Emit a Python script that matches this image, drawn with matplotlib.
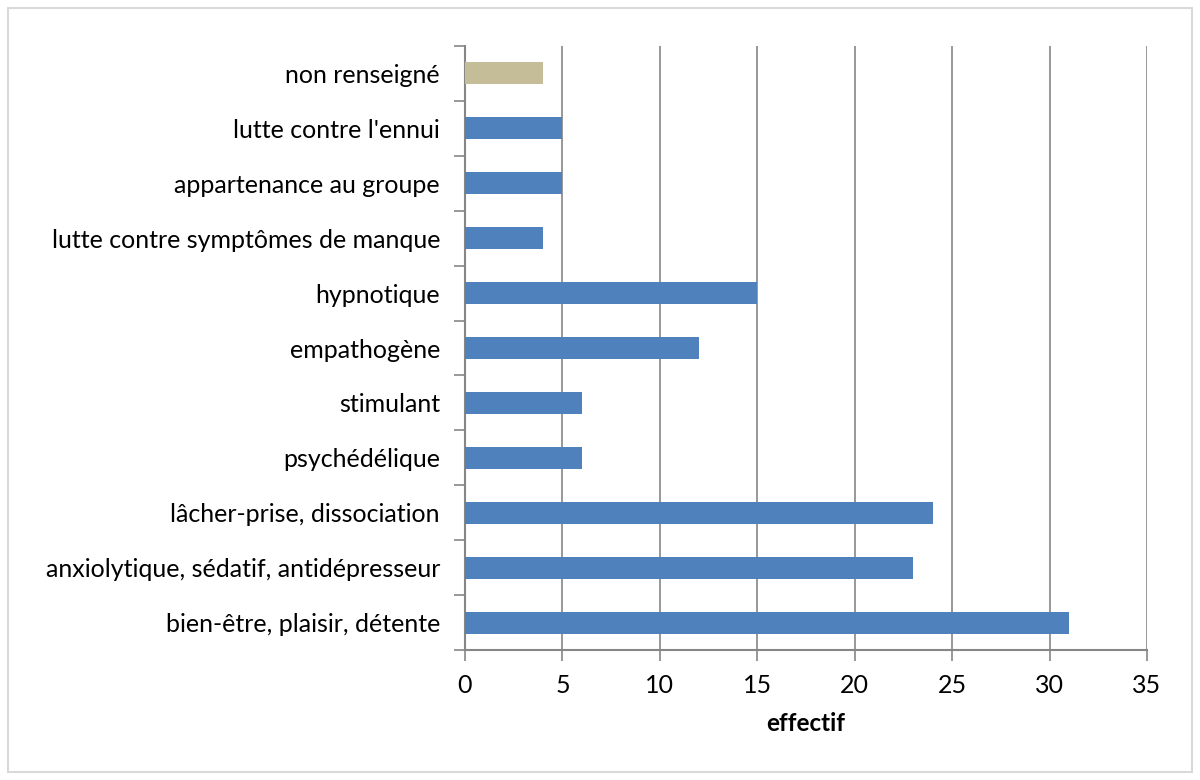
import numpy as np
import matplotlib.pyplot as plt
from matplotlib.patches import Rectangle

# Donnees (de bas en haut)
categories = ["bien-être, plaisir, détente",
              "anxiolytique, sédatif, antidépresseur",
              "lâcher-prise, dissociation",
              "psychédélique",
              "stimulant",
              "empathogène",
              "hypnotique",
              "lutte contre symptômes de manque",
              "appartenance au groupe",
              "lutte contre l'ennui",
              "non renseigné"]
effectifs = [31, 23, 24, 6, 6, 12, 15, 4, 5, 5, 4]
couleurs = ["#4F81BD"] * 10 + ["#C4BD97"]
x_ticks = [0, 5, 10, 15, 20, 25, 30, 35]

plt.rcParams['font.family'] = ['Lato', 'DejaVu Sans']

fig = plt.figure(figsize=(12, 7.8), dpi=100)
ax = fig.add_axes([465 / 1200, 1 - 650 / 780, (1147 - 465) / 1200, (650 - 46) / 780])

y = np.arange(len(categories))
ax.barh(y, effectifs, height=0.4, color=couleurs, zorder=3)

ax.set_xlim(0, 35)
ax.set_ylim(-0.5, len(categories) - 0.5)
ax.set_xticks(x_ticks)
ax.set_xticklabels([str(t) for t in x_ticks], fontsize=18)
ax.xaxis.grid(True, color="#868686", linewidth=1.2, zorder=0)

# libelles des categories centres, graduations aux limites
ax.set_yticks(y)
ax.set_yticklabels(categories, fontsize=18)
ax.tick_params(axis='y', length=0, pad=18)
ax.set_yticks(np.arange(-0.5, len(categories), 1), minor=True)
ax.tick_params(axis='y', which='minor', length=8, width=1.2, color="#868686")
ax.tick_params(axis='x', length=8, width=1.2, color="#868686", pad=9)

for s in ['top', 'right']:
    ax.spines[s].set_visible(False)
for s in ['left', 'bottom']:
    ax.spines[s].set_color("#868686")
    ax.spines[s].set_linewidth(1.5)

ax.set_xlabel("effectif", fontsize=17.5, fontweight='bold', labelpad=11)

# cadre exterieur
fig.patches.append(Rectangle((8 / 1200, 8 / 780), 1184 / 1200, 764 / 780,
                             transform=fig.transFigure, fill=False,
                             edgecolor="#D9D9D9", linewidth=1.5))

fig.savefig("out.png", dpi=100)
